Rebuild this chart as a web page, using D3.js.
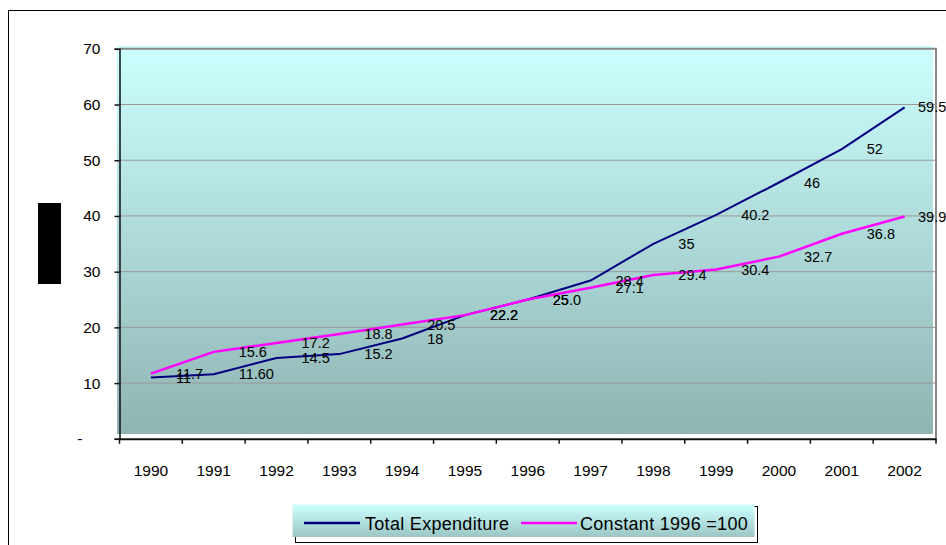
<!DOCTYPE html>
<html>
<head>
<meta charset="utf-8">
<script src="https://cdn.jsdelivr.net/npm/d3@7"></script>
<style>
  html, body { margin: 0; padding: 0; background: #fff; }
  svg { display: block; font-family: "Liberation Sans", Arial, sans-serif; }
</style>
</head>
<body>
<svg id="chart" width="946" height="545"></svg>
<script>
// ---- data ----
const years = ["1990","1991","1992","1993","1994","1995","1996","1997","1998","1999","2000","2001","2002"];
const totalExpenditure = [11, 11.6, 14.5, 15.2, 18, 22.2, 25, 28.4, 35, 40.2, 46, 52, 59.5];
const constant1996 = [11.7, 15.6, 17.2, 18.8, 20.5, 22.2, 25.0, 27.1, 29.4, 30.4, 32.7, 36.8, 39.9];
const totalLabels = ["11","11.60","14.5","15.2","18","22.2","25","28.4","35","40.2","46","52","59.5"];
const constantLabels = ["11.7","15.6","17.2","18.8","20.5","22.2","25.0","27.1","29.4","30.4","32.7","36.8","39.9"];
const yTicks = [0, 10, 20, 30, 40, 50, 60, 70];
const seriesNames = ["Total Expenditure", "Constant 1996 =100"];

const series = [
  { name: seriesNames[0], values: totalExpenditure, labels: totalLabels, color: "#000080", width: 2 },
  { name: seriesNames[1], values: constant1996, labels: constantLabels, color: "#ff00ff", width: 2.5 }
];

const svg = d3.select("#chart");

// outer chart border
svg.append("rect").attr("x", 8.5).attr("y", 10.5).attr("width", 1000).attr("height", 1000)
  .attr("fill", "none").attr("stroke", "#000").attr("stroke-width", 1);

// redacted axis title block
svg.append("rect").attr("x", 38).attr("y", 203).attr("width", 23).attr("height", 81).attr("fill", "#000");

const plot = { left: 119.5, right: 936, top: 48.8, bottom: 438.8 };

const x = d3.scaleBand().domain(years).range([plot.left, plot.right]).padding(0);
const y = d3.scaleLinear().domain([0, 70]).range([plot.bottom, plot.top]);

const defs = svg.append("defs");
const grad = defs.append("linearGradient").attr("id", "plotGrad").attr("x1", 0).attr("y1", 0).attr("x2", 0).attr("y2", 1);
grad.append("stop").attr("offset", "0%").attr("stop-color", "#ccffff");
grad.append("stop").attr("offset", "100%").attr("stop-color", "#8fb4b2");
const lgrad = defs.append("linearGradient").attr("id", "legGrad").attr("x1", 0).attr("y1", 0).attr("x2", 0).attr("y2", 1);
lgrad.append("stop").attr("offset", "0%").attr("stop-color", "#ccffff");
lgrad.append("stop").attr("offset", "100%").attr("stop-color", "#9cc6c4");

// plot area fill (slightly offset as in the original)
svg.append("rect").attr("x", plot.left - 2.5).attr("y", plot.top - 2.8)
  .attr("width", plot.right - plot.left - 0.5).attr("height", plot.bottom - plot.top - 2)
  .attr("fill", "url(#plotGrad)");

// gridlines
svg.append("g").selectAll("line").data(yTicks.filter(d => d > 0 && d < 70)).join("line")
  .attr("x1", plot.left).attr("x2", plot.right)
  .attr("y1", d => y(d)).attr("y2", d => y(d))
  .attr("stroke", "#999").attr("stroke-width", 1);

// plot frame (top and right)
svg.append("path")
  .attr("d", `M${plot.left},${y(70)}H${plot.right}V${plot.bottom}`)
  .attr("fill", "none").attr("stroke", "#888").attr("stroke-width", 2);

// y axis
const yAxis = svg.append("g").attr("transform", `translate(${plot.left},0)`)
  .call(d3.axisLeft(y).tickValues(yTicks).tickSize(5).tickPadding(14)
    .tickFormat(d => d === 0 ? "-" : d3.format("d")(d)));
yAxis.select(".domain").attr("stroke", "#111").attr("stroke-width", 1.5);
yAxis.selectAll(".tick line").attr("stroke", "#111").attr("stroke-width", 1.5);
yAxis.selectAll(".tick text").attr("font-size", 15.5).attr("fill", "#000")
  .attr("font-family", "'Liberation Sans', Arial, sans-serif")
  .attr("dx", d => d === 0 ? -18 : 0);

// x axis
const xAxis = svg.append("g").attr("transform", `translate(0,${plot.bottom})`)
  .call(d3.axisBottom(x).tickSize(0).tickPadding(26));
xAxis.select(".domain").attr("stroke", "#111").attr("stroke-width", 2);
xAxis.selectAll(".tick text").attr("font-size", 15.5).attr("fill", "#000")
  .attr("font-family", "'Liberation Sans', Arial, sans-serif");
// category boundary ticks
const boundaries = years.map(d => x(d)).concat([x(years[years.length - 1]) + x.bandwidth()]);
svg.append("g").selectAll("line").data(boundaries).join("line")
  .attr("x1", d => d).attr("x2", d => d)
  .attr("y1", plot.bottom).attr("y2", plot.bottom + 5)
  .attr("stroke", "#111").attr("stroke-width", 1.5);

// lines
const cx = d => x(d) + x.bandwidth() / 2;
series.forEach(s => {
  const line = d3.line().x((v, i) => cx(years[i])).y(v => y(v));
  svg.append("path").datum(s.values)
    .attr("d", line)
    .attr("fill", "none").attr("stroke", s.color).attr("stroke-width", s.width)
    .attr("stroke-linejoin", "round");
});

// data labels (right of points)
const labelMax = plot.right - 18;
series.forEach(s => {
  svg.append("g").selectAll("text").data(s.values).join("text")
    .attr("x", (v, i) => Math.min(cx(years[i]) + 25, labelMax))
    .attr("y", v => y(v))
    .attr("dy", "0.35em")
    .attr("font-size", 14.5).attr("fill", "#000")
    .text((v, i) => s.labels[i]);
});

// legend
const leg = svg.append("g");
leg.append("rect").attr("x", 295.5).attr("y", 506.5).attr("width", 462).attr("height", 36)
  .attr("fill", "#fff").attr("stroke", "#000").attr("stroke-width", 1);
leg.append("rect").attr("x", 292.5).attr("y", 504.5).attr("width", 462).attr("height", 32.5)
  .attr("fill", "url(#legGrad)");
const legItems = [
  { s: series[0], x0: 304, tx: 365 },
  { s: series[1], x0: 521, tx: 580 }
];
legItems.forEach(it => {
  leg.append("line").attr("x1", it.x0).attr("x2", it.x0 + 56).attr("y1", 523).attr("y2", 523)
    .attr("stroke", it.s.color).attr("stroke-width", 2.5);
  leg.append("text").attr("x", it.tx).attr("y", 529.5).attr("font-size", 18).attr("fill", "#000")
    .attr("letter-spacing", 0.3)
    .text(it.s.name);
});
</script>
</body>
</html>
